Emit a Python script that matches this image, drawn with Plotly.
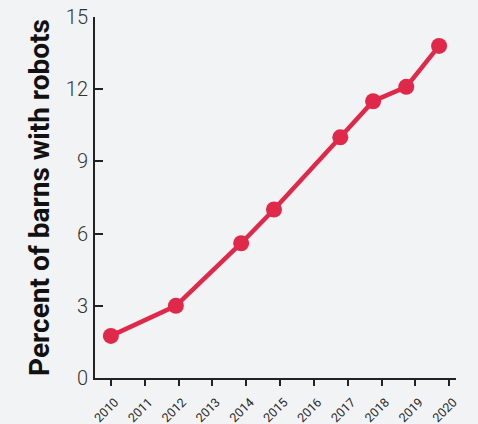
import plotly.graph_objects as go

years = [2010.0, 2011.92, 2013.85, 2014.82, 2016.78, 2017.75, 2018.73, 2019.7]
percent = [1.75, 3.0, 5.6, 7.0, 10.0, 11.5, 12.1, 13.8]
tick_years = list(range(2010, 2021))
tick_labels = [str(y) for y in tick_years]
y_ticks = [0, 3, 6, 9, 12, 15]

fig = go.Figure(go.Scatter(
    x=years, y=percent, mode="lines+markers",
    line=dict(color="#e0294a", width=4.5),
    marker=dict(color="#e0294a", size=16),
    cliponaxis=False,
))

bg = "#f2f3f5"
fig.update_layout(
    width=478, height=424,
    paper_bgcolor=bg, plot_bgcolor=bg,
    margin=dict(l=95, r=22, t=17, b=46),
    showlegend=False,
)
fig.update_xaxes(
    range=[2009.53, 2020.2], tickvals=tick_years, ticktext=tick_labels,
    tickangle=-45, ticks="outside", ticklen=6, tickwidth=2, tickcolor="#222",
    showline=True, linecolor="#222", linewidth=2, showgrid=False, zeroline=False,
    ticklabelstandoff=4, ticklabelshift=4,
    tickfont=dict(family="Roboto", size=12.5, color="#2a2a2a"), automargin=False,
)
fig.update_yaxes(
    range=[0, 15], tickvals=y_ticks, ticks="inside", ticklen=8, tickwidth=2,
    tickcolor="#222", showline=True, linecolor="#222", linewidth=2,
    showgrid=False, zeroline=False, ticklabelstandoff=1, automargin=False,
    tickfont=dict(family="Roboto", size=20, color="#333", weight=300),
    title=dict(text="Percent of barns with robots", standoff=8,
               font=dict(family="Roboto", size=28, color="#111", weight=700)),
)
fig.write_html(
    "out.html",
    config={"displayModeBar": False},
    post_script="document.body.style.margin='0';document.body.style.background='%s';" % bg,
)
